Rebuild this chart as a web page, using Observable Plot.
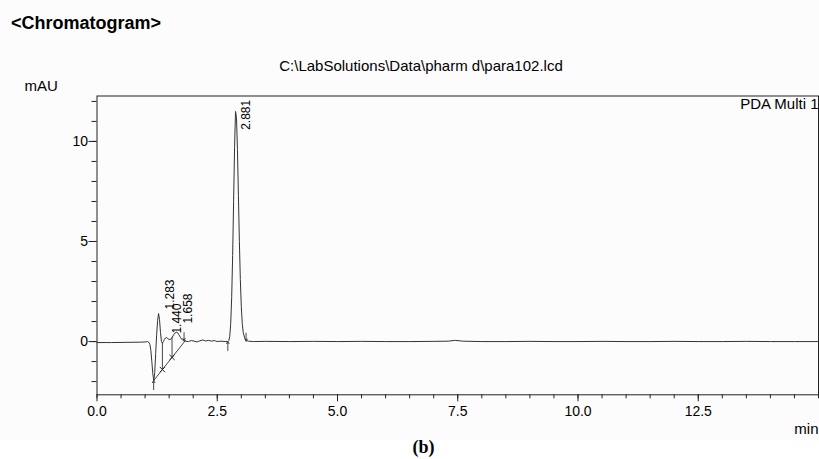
<!DOCTYPE html>
<html><head><meta charset="utf-8">
<script src="https://cdn.jsdelivr.net/npm/d3@7"></script>
<script src="https://cdn.jsdelivr.net/npm/@observablehq/plot@0.6"></script>
<style>
html,body{margin:0;padding:0;background:#fff;}
#page{position:relative;width:819px;height:459px;overflow:hidden;font-family:Arial,"Liberation Sans",sans-serif;color:#000;}
#bg{position:absolute;left:0;top:0;width:819px;height:440px;background:#fcfcfc;}
#title{position:absolute;left:11px;top:14px;font-size:18px;font-weight:bold;line-height:18px;white-space:nowrap;}
#sub{position:absolute;left:0;width:842px;text-align:center;top:58px;font-size:15px;line-height:15px;white-space:nowrap;}
#chart{position:absolute;left:0;top:70px;}
#cap{position:absolute;left:0;width:847px;text-align:center;top:438px;font-family:"Liberation Serif","Times New Roman",serif;font-weight:bold;font-size:18px;line-height:18px;}
</style></head>
<body>
<div id="page">
  <div id="bg"></div>
  <div id="title">&lt;Chromatogram&gt;</div>
  <div id="sub">C:\LabSolutions\Data\pharm d\para102.lcd</div>
  <div id="chart"></div>
  <div id="cap">(b)</div>
</div>
<script>
// Retention time (min) and detector signal (mAU)
const times = [0, 0.3, 0.6, 0.9, 1.0, 1.05, 1.08, 1.10, 1.12, 1.14, 1.16, 1.18, 1.20, 1.22, 1.24, 1.26, 1.28, 1.30, 1.32, 1.34, 1.36, 1.38, 1.40, 1.42, 1.44, 1.46, 1.48, 1.50, 1.52, 1.54, 1.56, 1.58, 1.60, 1.62, 1.64, 1.66, 1.68, 1.70, 1.72, 1.74, 1.76, 1.78, 1.80, 1.84, 1.90, 1.96, 2.02, 2.08, 2.14, 2.20, 2.26, 2.32, 2.38, 2.44, 2.50, 2.56, 2.62, 2.68, 2.72, 2.74, 2.76, 2.78, 2.80, 2.82, 2.84, 2.86, 2.88, 2.90, 2.92, 2.94, 2.96, 2.98, 3.00, 3.02, 3.04, 3.07, 3.10, 3.15, 3.25, 3.5, 4.0, 4.5, 5.0, 5.5, 6.0, 6.5, 7.0, 7.3, 7.45, 7.6, 8.0, 8.5, 9.0, 9.5, 10.0, 10.5, 11.0, 11.5, 12.0, 12.5, 13.0, 13.5, 14.0, 14.5, 15.0];
const signal = [-0.05, -0.05, -0.04, -0.03, -0.02, 0.0, -0.05, -0.15, -0.45, -1.0, -1.6, -1.95, -1.55, -0.6, 0.35, 1.05, 1.4, 1.1, 0.45, 0.0, -0.08, 0.0, 0.1, 0.17, 0.2, 0.18, 0.13, 0.1, 0.1, 0.14, 0.2, 0.28, 0.36, 0.42, 0.46, 0.47, 0.43, 0.35, 0.27, 0.19, 0.12, 0.07, 0.04, 0.02, 0.0, 0.05, 0.02, -0.02, 0.04, 0.08, 0.03, 0.06, 0.02, 0.05, 0.0, 0.02, 0.01, 0.0, 0.0, 0.05, 0.25, 0.9, 2.2, 4.3, 7.0, 9.7, 11.5, 11.2, 9.6, 7.3, 5.0, 3.1, 1.75, 0.9, 0.45, 0.18, 0.06, 0.02, 0.0, 0.01, 0.0, 0.01, 0.0, 0.01, 0.0, 0.0, 0.01, 0.02, 0.06, 0.02, 0.0, 0.0, 0.01, 0.0, 0.0, 0.01, 0.0, 0.0, 0.01, 0.0, 0.0, 0.01, 0.0, 0.0, 0.0];

// Peak labels
const peakTimes = [1.283, 1.440, 1.658, 2.881];
const peakLabels = ["1.283", "1.440", "1.658", "2.881"];
const peakLabelLevel = [1.6, 0.4, 0.9, 10.58];

// Integration marks
const startTimes = [1.178, 2.72];
const startVals = [-1.95, 0.0];
const endTimes = [1.81, 3.10];
const endVals = [0.05, 0.02];
const baselineTimes = [1.178, 1.837];
const baselineVals = [-1.95, 0.05];
const dropTimes = [1.36, 1.56];
const dropTop = [-0.08, 0.2];
const dropBase = [-1.40, -0.79];

// Axes
const xMajor = [0, 2.5, 5, 7.5, 10, 12.5];
const xTickLabels = ["0.0", "2.5", "5.0", "7.5", "10.0", "12.5"];
const xMinor = d3.range(0, 15.001, 0.5);
const yMajor = [0, 5, 10];
const yTickLabels = ["0", "5", "10"];
const yMinor = d3.range(-2, 12.001, 1);

const series = times.map((t, i) => ({t, v: signal[i]}));
const ink = "#222";

const chart = Plot.plot({
  width: 819,
  height: 368,
  marginLeft: 96.5,
  marginRight: 1,
  marginTop: 25.5,
  marginBottom: 43.7,
  style: {fontFamily: "Arial, 'Liberation Sans', sans-serif", fontSize: "14px", background: "transparent", color: "#000"},
  x: {domain: [0, 15]},
  y: {domain: [-2.66, 12.27]},
  marks: [
    Plot.axisX(xMajor, {tickSize: 7, tickPadding: 4, fontSize: 14, label: null, stroke: ink, fill: "#000",
      tickFormat: d => xTickLabels[xMajor.indexOf(d)]}),
    Plot.axisX(xMinor, {tickSize: 4, label: null, stroke: ink, tickFormat: () => ""}),
    Plot.axisY(yMajor, {tickSize: 8, tickPadding: 1, fontSize: 14, label: null, stroke: ink, fill: "#000",
      tickFormat: d => yTickLabels[yMajor.indexOf(d)]}),
    Plot.axisY(yMinor, {tickSize: 5, label: null, stroke: ink, tickFormat: () => ""}),
    Plot.frame({stroke: ink}),
    Plot.line(series, {x: "t", y: "v", stroke: "#333", strokeWidth: 1}),
    Plot.line(baselineTimes.map((t, i) => ({t, v: baselineVals[i]})), {x: "t", y: "v", stroke: "#333", strokeWidth: 0.9}),
    Plot.ruleX(dropTimes.map((t, i) => ({t, a: dropTop[i], b: dropBase[i]})), {x: "t", y1: "a", y2: "b", stroke: "#333", strokeWidth: 0.9}),
    Plot.dot(dropTimes.map((t, i) => ({t, b: dropBase[i]})), {x: "t", y: "b", symbol: "times", r: 2.5, stroke: "#222", strokeWidth: 1}),
    Plot.arrow(startTimes.map((t, i) => ({t, v: startVals[i]})), {x1: "t", x2: "t", y1: d => d.v - 0.45, y2: "v", stroke: "#333", strokeWidth: 0.9, headLength: 4, headAngle: 60}),
    Plot.arrow(endTimes.map((t, i) => ({t, v: endVals[i]})), {x1: "t", x2: "t", y1: d => d.v + 0.4, y2: "v", stroke: "#333", strokeWidth: 0.9, headLength: 4, headAngle: 60}),
    Plot.text(peakTimes.map((t, i) => ({t, v: peakLabelLevel[i], s: peakLabels[i]})), {x: "t", y: "v", text: "s", rotate: -90, textAnchor: "start", dx: 11, fontSize: 12, fill: "#000"}),
    Plot.text(["mAU"], {text: d => d, frameAnchor: "top-left", textAnchor: "start", lineAnchor: "bottom", dx: -72.5, dy: -4.8, fontSize: 15, fill: "#000"}),
    Plot.text(["PDA Multi 1"], {text: d => d, frameAnchor: "top-right", textAnchor: "end", lineAnchor: "bottom", dx: 0, dy: 12.5, fontSize: 15, fill: "#000"}),
    Plot.text(["min"], {text: d => d, frameAnchor: "bottom-right", textAnchor: "end", lineAnchor: "bottom", dx: 0, dy: 39, fontSize: 15, fill: "#000"})
  ]
});
document.getElementById("chart").appendChild(chart);
</script>
</body></html>
